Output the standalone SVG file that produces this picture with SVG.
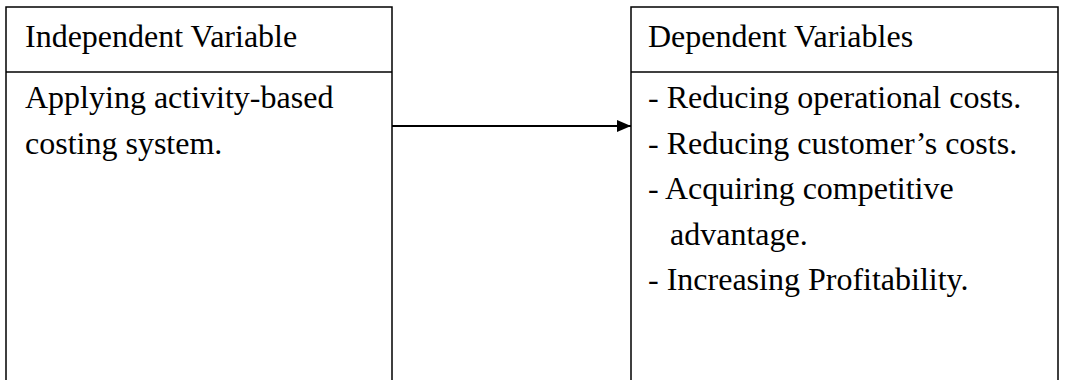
<svg xmlns="http://www.w3.org/2000/svg" width="1065" height="380" viewBox="0 0 1065 380">
<style>
.box{fill:none;stroke:#000;stroke-width:1.5}
.t{font-family:"Liberation Serif","Times New Roman",serif;font-size:32px;fill:#000}
.c{stroke:#000;stroke-width:1.8;fill:none}
</style>
<defs>
<marker id="ah" markerWidth="14" markerHeight="12" refX="14" refY="6" orient="auto" markerUnits="userSpaceOnUse">
<path d="M0,0 L14,6 L0,12 Z" fill="#000"/>
</marker>
</defs>
<rect width="1065" height="380" fill="#fff"/>
<g id="independent">
<path class="box" d="M6,390 V7 H392 V390"/>
<line class="box" x1="6" y1="72" x2="392" y2="72"/>
<text class="t" x="25" y="47">Independent Variable</text>
<text class="t" x="25" y="108">Applying activity-based</text>
<text class="t" x="25" y="153.5">costing system.</text>
</g>
<g id="dependent">
<path class="box" d="M631,390 V7 H1058 V390"/>
<line class="box" x1="631" y1="72" x2="1058" y2="72"/>
<text class="t" x="648" y="47">Dependent Variables</text>
<text class="t" x="648" y="108">- Reducing operational costs.</text>
<text class="t" x="648" y="153.5">- Reducing customer’s costs.</text>
<text class="t" x="648" y="199">- Acquiring competitive</text>
<text class="t" x="670" y="244.5">advantage.</text>
<text class="t" x="648" y="290">- Increasing Profitability.</text>
</g>
<g id="connectors">
<line class="c" x1="392" y1="126" x2="631" y2="126" marker-end="url(#ah)"/>
</g>
</svg>
